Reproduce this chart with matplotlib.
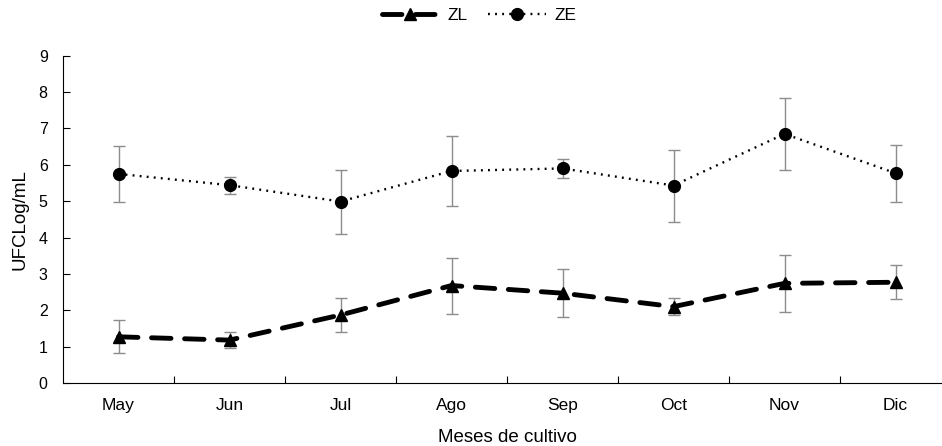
import numpy as np
import matplotlib
matplotlib.use("Agg")
import matplotlib.pyplot as plt

plt.rcParams['font.family'] = ['Liberation Sans', 'DejaVu Sans']

months = ["May", "Jun", "Jul", "Ago", "Sep", "Oct", "Nov", "Dic"]
ze_mean = [5.75, 5.44, 4.99, 5.83, 5.90, 5.43, 6.85, 5.77]
ze_err = [0.78, 0.23, 0.88, 0.97, 0.27, 0.99, 1.00, 0.78]
zl_mean = [1.27, 1.18, 1.87, 2.68, 2.47, 2.10, 2.74, 2.77]
zl_err = [0.45, 0.23, 0.47, 0.77, 0.66, 0.23, 0.78, 0.47]

x = np.arange(len(months))

fig = plt.figure(figsize=(9.42, 4.46), dpi=100)
ax = fig.add_axes([63 / 942, 1 - 383 / 446, 888 / 942, (383 - 55.7) / 446])

# error bars first, grey
ax.errorbar(x, ze_mean, yerr=ze_err, fmt='none', ecolor='#8c8c8c',
            elinewidth=1, capsize=4, capthick=1, zorder=2)
ax.errorbar(x, zl_mean, yerr=zl_err, fmt='none', ecolor='#8c8c8c',
            elinewidth=1, capsize=4, capthick=1, zorder=2)

ax.plot(x, zl_mean, color='black', lw=3.5, dashes=(4.0, 2.8),
        dash_capstyle='round', marker='^', markersize=8, label='ZL', zorder=3)
ax.plot(x, ze_mean, color='black', lw=1.7, dashes=(0.8, 2.2),
        marker='o', markersize=8.5, label='ZE', zorder=3)

ax.set_xlim(-0.5, 7.5)
ax.set_ylim(0, 9)
ax.set_yticks(range(0, 10))
ax.set_xticks(x)
ax.set_xticklabels(months)
ax.set_xticks(np.arange(0.5, 7, 1), minor=True)

ax.tick_params(axis='x', which='major', length=0, pad=11, labelsize=12.5)
ax.tick_params(axis='x', which='minor', direction='in', length=5, width=0.8)
ax.tick_params(axis='y', direction='in', length=5, width=0.8, pad=11, labelsize=11.5)

for s in ['top', 'right']:
    ax.spines[s].set_visible(False)
for s in ['left', 'bottom']:
    ax.spines[s].set_linewidth(0.8)

ax.set_xlabel("Meses de cultivo", fontsize=13.5, labelpad=11)
ax.set_ylabel("UFCLog/mL", fontsize=13.5, labelpad=7)

fig.legend(loc='center', bbox_to_anchor=(0.5085, 0.966), ncol=2, frameon=False,
           fontsize=12.5, handlelength=3.3, columnspacing=1.2, handletextpad=0.5)

fig.savefig("out.png", dpi=100)
